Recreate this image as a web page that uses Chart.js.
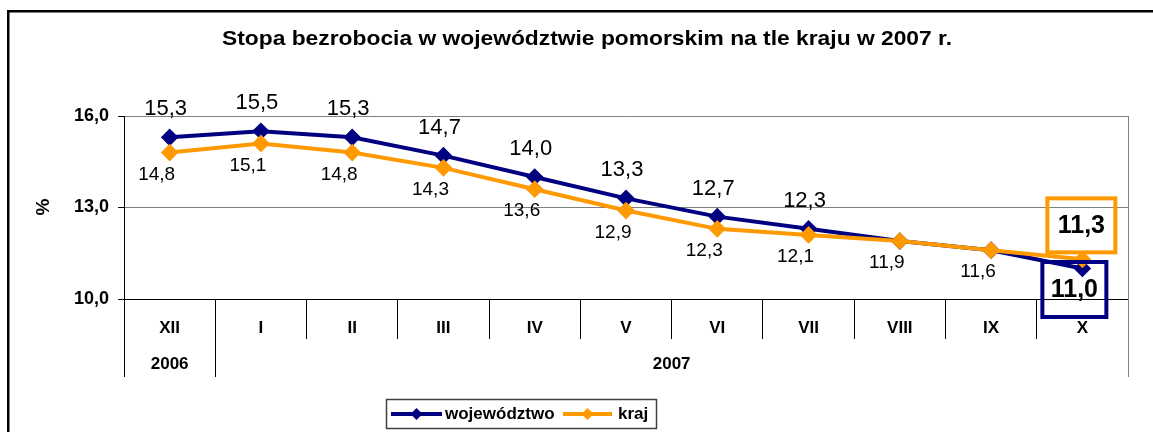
<!DOCTYPE html>
<html lang="pl">
<head>
<meta charset="utf-8">
<title>Stopa bezrobocia w województwie pomorskim</title>
<script src="https://cdn.jsdelivr.net/npm/chart.js@4.4.1/dist/chart.umd.min.js"></script>
<style>
  html, body { margin: 0; padding: 0; background: #fff; }
  #wrap { width: 1153px; height: 432px; }
</style>
</head>
<body>
<div id="wrap"><canvas id="chart" width="1153" height="432"></canvas></div>
<script>
// dane
const months = ['XII', 'I', 'II', 'III', 'IV', 'V', 'VI', 'VII', 'VIII', 'IX', 'X'];
const years = ['2006', '2007'];
const yearSpans = [1, 10];
const wojewodztwo = [15.3, 15.5, 15.3, 14.7, 14.0, 13.3, 12.7, 12.3, 11.9, 11.6, 11.0];
const kraj = [14.8, 15.1, 14.8, 14.3, 13.6, 12.9, 12.3, 12.1, 11.9, 11.6, 11.3];
const yTicks = [10, 13, 16];

const TITLE = 'Stopa bezrobocia w województwie pomorskim na tle kraju w 2007 r.';
const FONT = '"Liberation Sans", Arial, sans-serif';
const NAVY = '#000080';
const ORANGE = '#FF9900';

function fmt(v) {
  return v.toFixed(1).replace('.', ',');
}

function diamond(ctx, x, y, r, color) {
  ctx.fillStyle = color;
  ctx.beginPath();
  ctx.moveTo(x, y - r);
  ctx.lineTo(x + r, y);
  ctx.lineTo(x, y + r);
  ctx.lineTo(x - r, y);
  ctx.closePath();
  ctx.fill();
}

function boxLabel(ctx, text, cx, cy, w, h, color) {
  ctx.strokeStyle = color;
  ctx.lineWidth = 4;
  ctx.strokeRect(cx - w / 2, cy - h / 2, w, h);
  ctx.fillStyle = '#000';
  ctx.font = 'bold 25px ' + FONT;
  ctx.textAlign = 'center';
  ctx.textBaseline = 'middle';
  ctx.fillText(text, cx, cy + 1);
}

const decorations = {
  id: 'decorations',
  beforeDraw(chart) {
    const { ctx, width, height } = chart;
    ctx.save();
    ctx.fillStyle = '#fff';
    ctx.fillRect(0, 0, width, height);
    // ramka wykresu
    ctx.strokeStyle = '#000';
    ctx.lineWidth = 2.5;
    ctx.beginPath();
    ctx.moveTo(8.25, height + 5);
    ctx.lineTo(8.25, 11.25);
    ctx.lineTo(width + 5, 11.25);
    ctx.stroke();
    // tytuł (w oryginale nieco rozciągnięty w poziomie)
    ctx.fillStyle = '#000';
    ctx.font = 'bold 20px ' + FONT;
    ctx.textAlign = 'center';
    ctx.textBaseline = 'middle';
    const sx = 730 / ctx.measureText(TITLE).width;
    ctx.translate(587, 39);
    ctx.scale(sx, 1);
    ctx.fillText(TITLE, 0, 0);
    ctx.restore();
  },
  afterDraw(chart) {
    const { ctx, chartArea } = chart;
    const x = chart.scales.x;
    const step = x.getPixelForValue(1) - x.getPixelForValue(0);
    const rowBottom = 377;
    ctx.save();

    // prawa krawędź obszaru wykresu
    ctx.strokeStyle = '#808080';
    ctx.lineWidth = 1;
    ctx.beginPath();
    ctx.moveTo(Math.round(chartArea.right) + 0.5, chartArea.top);
    ctx.lineTo(Math.round(chartArea.right) + 0.5, rowBottom);
    ctx.stroke();

    // wiersz z latami
    ctx.strokeStyle = '#000';
    ctx.fillStyle = '#000';
    ctx.font = 'bold 17px ' + FONT;
    ctx.textAlign = 'center';
    ctx.textBaseline = 'middle';
    let start = 0;
    years.forEach((year, i) => {
      const left = x.getPixelForValue(start) - step / 2;
      const end = start + yearSpans[i] - 1;
      const right = x.getPixelForValue(end) + step / 2;
      ctx.beginPath();
      ctx.moveTo(Math.round(left) + 0.5, chartArea.bottom);
      ctx.lineTo(Math.round(left) + 0.5, rowBottom);
      ctx.stroke();
      ctx.fillText(year, (left + right) / 2, 364);
      start += yearSpans[i];
    });

    // opis osi Y
    ctx.save();
    ctx.translate(44, 207);
    ctx.rotate(-Math.PI / 2);
    ctx.font = 'bold 19px ' + FONT;
    ctx.fillText('%', 0, 0);
    ctx.restore();

    // etykiety danych
    const last = months.length - 1;
    const woj = chart.getDatasetMeta(1).data;
    const kr = chart.getDatasetMeta(0).data;
    ctx.fillStyle = '#000';
    ctx.font = '22px ' + FONT;
    woj.forEach((pt, i) => {
      if (i === last || wojewodztwo[i] === kraj[i]) return;
      ctx.fillText(fmt(wojewodztwo[i]), pt.x - 4, pt.y - 28);
    });
    ctx.font = '19px ' + FONT;
    kr.forEach((pt, i) => {
      if (i === last) return;
      ctx.fillText(fmt(kraj[i]), pt.x - 13, pt.y + 22);
    });
    boxLabel(ctx, fmt(kraj[last]), kr[last].x - 1, kr[last].y - 34, 68, 54, ORANGE);
    boxLabel(ctx, fmt(wojewodztwo[last]), woj[last].x - 8, woj[last].y + 21, 64, 55, NAVY);

    // legenda
    ctx.strokeStyle = '#404040';
    ctx.lineWidth = 1.5;
    ctx.strokeRect(386.5, 399.5, 270, 29);
    const ly = 414;
    [[NAVY, 391, 442, 'województwo', 445], [ORANGE, 563, 612, 'kraj', 618]].forEach(([c, a, b, t, tx]) => {
      ctx.strokeStyle = c;
      ctx.lineWidth = 4;
      ctx.beginPath();
      ctx.moveTo(a, ly);
      ctx.lineTo(b, ly);
      ctx.stroke();
      diamond(ctx, (a + b) / 2, ly, 6, c);
      ctx.fillStyle = '#000';
      ctx.font = 'bold 17px ' + FONT;
      ctx.textAlign = 'left';
      ctx.fillText(t, tx, ly);
    });
    ctx.restore();
  }
};

new Chart(document.getElementById('chart'), {
  type: 'line',
  data: {
    labels: months,
    datasets: [
      {
        label: 'kraj',
        data: kraj,
        borderColor: ORANGE,
        backgroundColor: ORANGE,
        borderWidth: 4,
        pointStyle: 'rectRot',
        pointRadius: 6,
        tension: 0,
        order: 0,
      },
      {
        label: 'województwo',
        data: wojewodztwo,
        borderColor: NAVY,
        backgroundColor: NAVY,
        borderWidth: 4,
        pointStyle: 'rectRot',
        pointRadius: 6,
        tension: 0,
        order: 1,
      },
    ],
  },
  options: {
    responsive: false,
    animation: false,
    devicePixelRatio: 1,
    layout: { padding: { top: 116, right: 25, bottom: 55, left: 0 } },
    plugins: {
      legend: { display: false },
      title: { display: false },
      tooltip: { enabled: false },
    },
    scales: {
      x: {
        offset: true,
        afterFit(scale) { scale.height = 78; },
        grid: {
          offset: true,
          drawOnChartArea: false,
          tickLength: 40,
          color: '#000',
        },
        border: { color: '#000' },
        ticks: {
          color: '#000',
          padding: -21,
          maxRotation: 0,
          font: { family: FONT, size: 17, weight: 'bold' },
        },
      },
      y: {
        min: yTicks[0],
        max: yTicks[yTicks.length - 1],
        afterFit(scale) { scale.width = 124; },
        afterBuildTicks(scale) { scale.ticks = yTicks.map((v) => ({ value: v })); },
        grid: {
          color: (c) => (c.tick && c.tick.value === yTicks[0] ? '#000' : '#808080'),
          tickLength: 6,
          tickColor: '#000',
        },
        border: { color: '#000' },
        ticks: {
          color: '#000',
          padding: 9,
          font: { family: FONT, size: 18, weight: 'bold' },
          callback: (v) => fmt(v),
        },
      },
    },
  },
  plugins: [decorations],
});
</script>
</body>
</html>
